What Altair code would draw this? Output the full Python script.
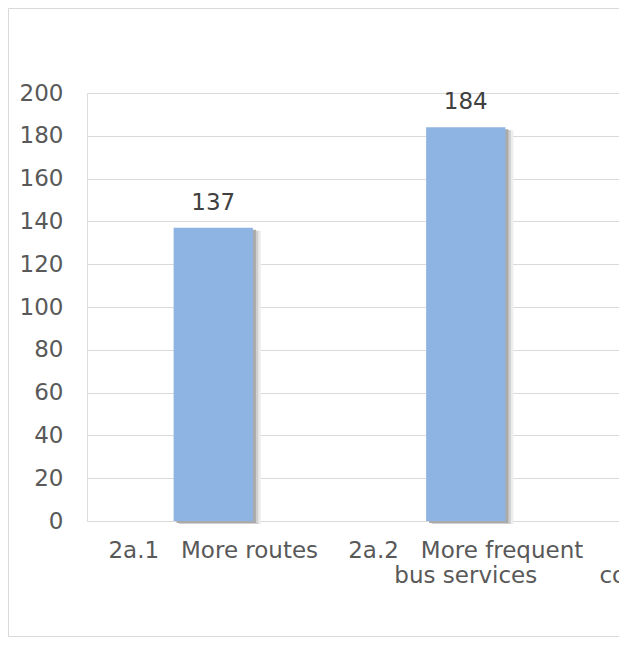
import altair as alt
import pandas as pd

NB = "\u00a0\u00a0\u00a0"
categories = [
    "2a.1" + NB + "More routes",
    "2a.2" + NB + "More frequent|bus services",
    "2a.3" + NB + "Better|connections to other",
]
values = [137, 184]
y_ticks = [0, 20, 40, 60, 80, 100, 120, 140, 160, 180, 200]

df = pd.DataFrame({"category": categories[:2], "value": values})
frame_df = pd.DataFrame({"k": [0]})

FONT = "DejaVu Sans"
TXT = "#595959"
FS = 23

x_scale = alt.Scale(domain=categories, range=[0, 757.5], paddingInner=0.686, paddingOuter=0.343)
y_scale = alt.Scale(domain=[0, 200], nice=False, zero=True)

x_enc = alt.X(
    "category:N", scale=x_scale, sort=None, title=None,
    axis=alt.Axis(labelExpr="split(datum.label, '|')", labelAngle=0, ticks=False, domain=False,
                  grid=False, labelFont=FONT, labelFontSize=FS, labelColor=TXT, labelPadding=18,
                  labelLineHeight=25, labelBaseline="top", labelLimit=0, labelOverlap=False),
)
y_enc = alt.Y(
    "value:Q", scale=y_scale, title=None,
    axis=alt.Axis(values=y_ticks, ticks=False, domain=False, grid=True, gridColor="#d9d9d9",
                  gridWidth=1, labelFont=FONT, labelFontSize=FS, labelColor=TXT, labelPadding=24),
)

base = alt.Chart(df)

shadow3 = base.mark_bar(color="#ededed", xOffset=8, x2Offset=8, yOffset=3).encode(x=x_enc, y=y_enc)
shadow2 = base.mark_bar(color="#d0d0d0", xOffset=5.5, x2Offset=5.5, yOffset=3).encode(x=x_enc, y=y_enc)
shadow1 = base.mark_bar(color="#aaaaaa", xOffset=3, x2Offset=3, yOffset=2).encode(x=x_enc, y=y_enc)
bars = base.mark_bar(color="#8eb4e3").encode(x=x_enc, y=y_enc)
labels = base.mark_text(font=FONT, fontSize=FS, color="#404040", baseline="alphabetic", dy=-18).encode(
    x=x_enc, y=y_enc, text=alt.Text("value:Q")
)

frame = alt.Chart(frame_df).mark_rect(fill=None, stroke="#d9d9d9", strokeWidth=1).encode(
    x=alt.value(-78.5), x2=alt.value(800), y=alt.value(-84.5), y2=alt.value(543.5)
)

chart = alt.layer(frame, shadow3, shadow2, shadow1, bars, labels).properties(
    width=532, height=428,
    autosize=alt.AutoSizeParams(type="none"),
    padding={"left": 79, "top": 85, "right": 0, "bottom": 116},
).configure_view(stroke=None).configure(background="white")

chart.save("out.html", embed_options={"renderer": "svg", "actions": False})
